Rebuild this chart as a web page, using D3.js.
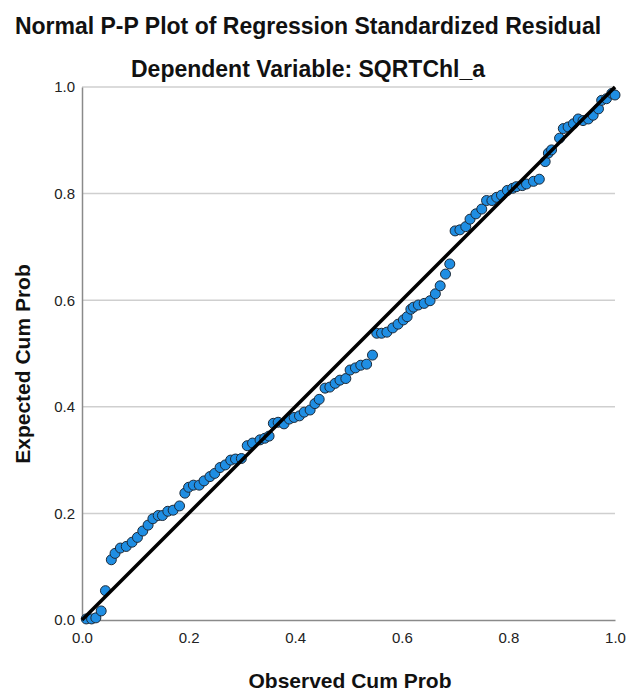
<html>
<head>
<script src="https://d3js.org/d3.v7.min.js"></script>
<style>
  body { margin: 0; background: #fff; }
  text { font-family: "Liberation Sans", Arial, sans-serif; }
</style>
</head>
<body>
<script>
    var width = 630, height = 693;

    // observed cum prob (x) and expected cum prob (y)
    var observed = [0.008,0.018,0.026,0.036,0.044,0.055,0.062,0.072,0.083,0.094,0.104,0.114,0.124,0.133,0.143,0.151,0.161,0.171,0.183,0.193,
        0.200,0.209,0.220,0.229,0.240,0.249,0.259,0.269,0.279,0.288,0.299,0.310,0.320,0.334,0.343,0.351,0.359,0.368,0.379,0.389,
        0.398,0.408,0.417,0.428,0.437,0.445,0.456,0.465,0.475,0.484,0.495,0.503,0.513,0.523,0.534,0.545,0.553,0.562,0.572,0.583,
        0.593,0.603,0.610,0.617,0.622,0.631,0.642,0.653,0.663,0.672,0.682,0.690,0.700,0.709,0.720,0.728,0.739,0.750,0.759,0.769,
        0.778,0.787,0.798,0.808,0.815,0.826,0.834,0.847,0.858,0.869,0.875,0.881,0.896,0.903,0.912,0.922,0.931,0.940,0.950,0.959,
        0.969,0.975,0.984,0.994,1.000];
    var expected = [0.002,0.002,0.004,0.017,0.055,0.113,0.125,0.135,0.138,0.146,0.155,0.167,0.178,0.190,0.196,0.196,0.204,0.206,0.214,0.238,
        0.249,0.253,0.253,0.261,0.269,0.275,0.286,0.291,0.300,0.302,0.303,0.327,0.332,0.338,0.341,0.345,0.369,0.371,0.368,0.377,
        0.380,0.383,0.390,0.394,0.406,0.414,0.435,0.437,0.444,0.450,0.453,0.469,0.473,0.478,0.480,0.497,0.538,0.538,0.540,0.548,
        0.555,0.563,0.569,0.583,0.587,0.591,0.594,0.599,0.612,0.627,0.649,0.668,0.730,0.732,0.738,0.752,0.762,0.771,0.787,0.787,
        0.793,0.797,0.806,0.810,0.813,0.815,0.818,0.823,0.827,0.860,0.876,0.882,0.904,0.922,0.925,0.931,0.940,0.937,0.940,0.947,
        0.959,0.975,0.978,0.988,0.985];
    var ticks = [0, 0.2, 0.4, 0.6, 0.8, 1.0];
    var gridTicks = [0.2, 0.4, 0.6, 0.8, 1.0];
    var refLine = [0, 1];

    var plotLeft = 82, plotRight = 615, plotTop = 87, plotBottom = 620;

    var svg = d3.select('body').append('svg').attr('width', width).attr('height', height);

    var x = d3.scaleLinear().domain([0, 1]).range([plotLeft, plotRight]);
    var y = d3.scaleLinear().domain([0, 1]).range([plotBottom, plotTop]);

    svg.append('text').attr('x', 308).attr('y', 34).attr('text-anchor', 'middle')
        .attr('font-size', 23).attr('font-weight', 'bold').attr('fill', '#111')
        .text('Normal P-P Plot of Regression Standardized Residual');
    svg.append('text').attr('x', 308).attr('y', 77).attr('text-anchor', 'middle')
        .attr('font-size', 23).attr('font-weight', 'bold').attr('fill', '#111')
        .text('Dependent Variable: SQRTChl_a');

    // gridlines
    svg.selectAll('line.grid').data(gridTicks).enter().append('line').attr('class', 'grid')
        .attr('x1', plotLeft).attr('x2', plotRight)
        .attr('y1', function(d){ return y(d); }).attr('y2', function(d){ return y(d); })
        .attr('stroke', '#cfcfcf').attr('stroke-width', 1.5);

    // axes
    var yAxis = svg.append('g').attr('transform', 'translate(' + plotLeft + ',0)')
        .call(d3.axisLeft(y).tickValues(ticks).tickFormat(d3.format('.1f')).tickSize(0).tickPadding(7));
    var xAxis = svg.append('g').attr('transform', 'translate(0,' + plotBottom + ')')
        .call(d3.axisBottom(x).tickValues(ticks).tickFormat(d3.format('.1f')).tickSize(0).tickPadding(12));
    [xAxis, yAxis].forEach(function(a){
        a.select('.domain').attr('stroke', '#8a8a8a').attr('stroke-width', 1.5);
        a.selectAll('text').attr('font-size', 15).attr('fill', '#222')
            .style('font-family', '"Liberation Sans", Arial, sans-serif');
    });

    svg.append('text').attr('x', 350).attr('y', 688).attr('text-anchor', 'middle')
        .attr('font-size', 21).attr('font-weight', 'bold').attr('fill', '#111').text('Observed Cum Prob');
    svg.append('text').attr('transform', 'translate(30,' + 364 + ') rotate(-90)').attr('text-anchor', 'middle')
        .attr('font-size', 21).attr('font-weight', 'bold').attr('fill', '#111').text('Expected Cum Prob');

    // points
    svg.selectAll('circle').data(observed).enter().append('circle')
        .attr('cx', function(d){ return x(d); })
        .attr('cy', function(d, i){ return y(expected[i]); })
        .attr('r', 5)
        .attr('fill', '#1f8ee3').attr('stroke', '#1d2a38').attr('stroke-width', 1);

    // reference line
    svg.append('line')
        .attr('x1', x(refLine[0])).attr('y1', y(refLine[0]))
        .attr('x2', x(refLine[1])).attr('y2', y(refLine[1]))
        .attr('stroke', '#000').attr('stroke-width', 3.5);
</script>
</body>
</html>
